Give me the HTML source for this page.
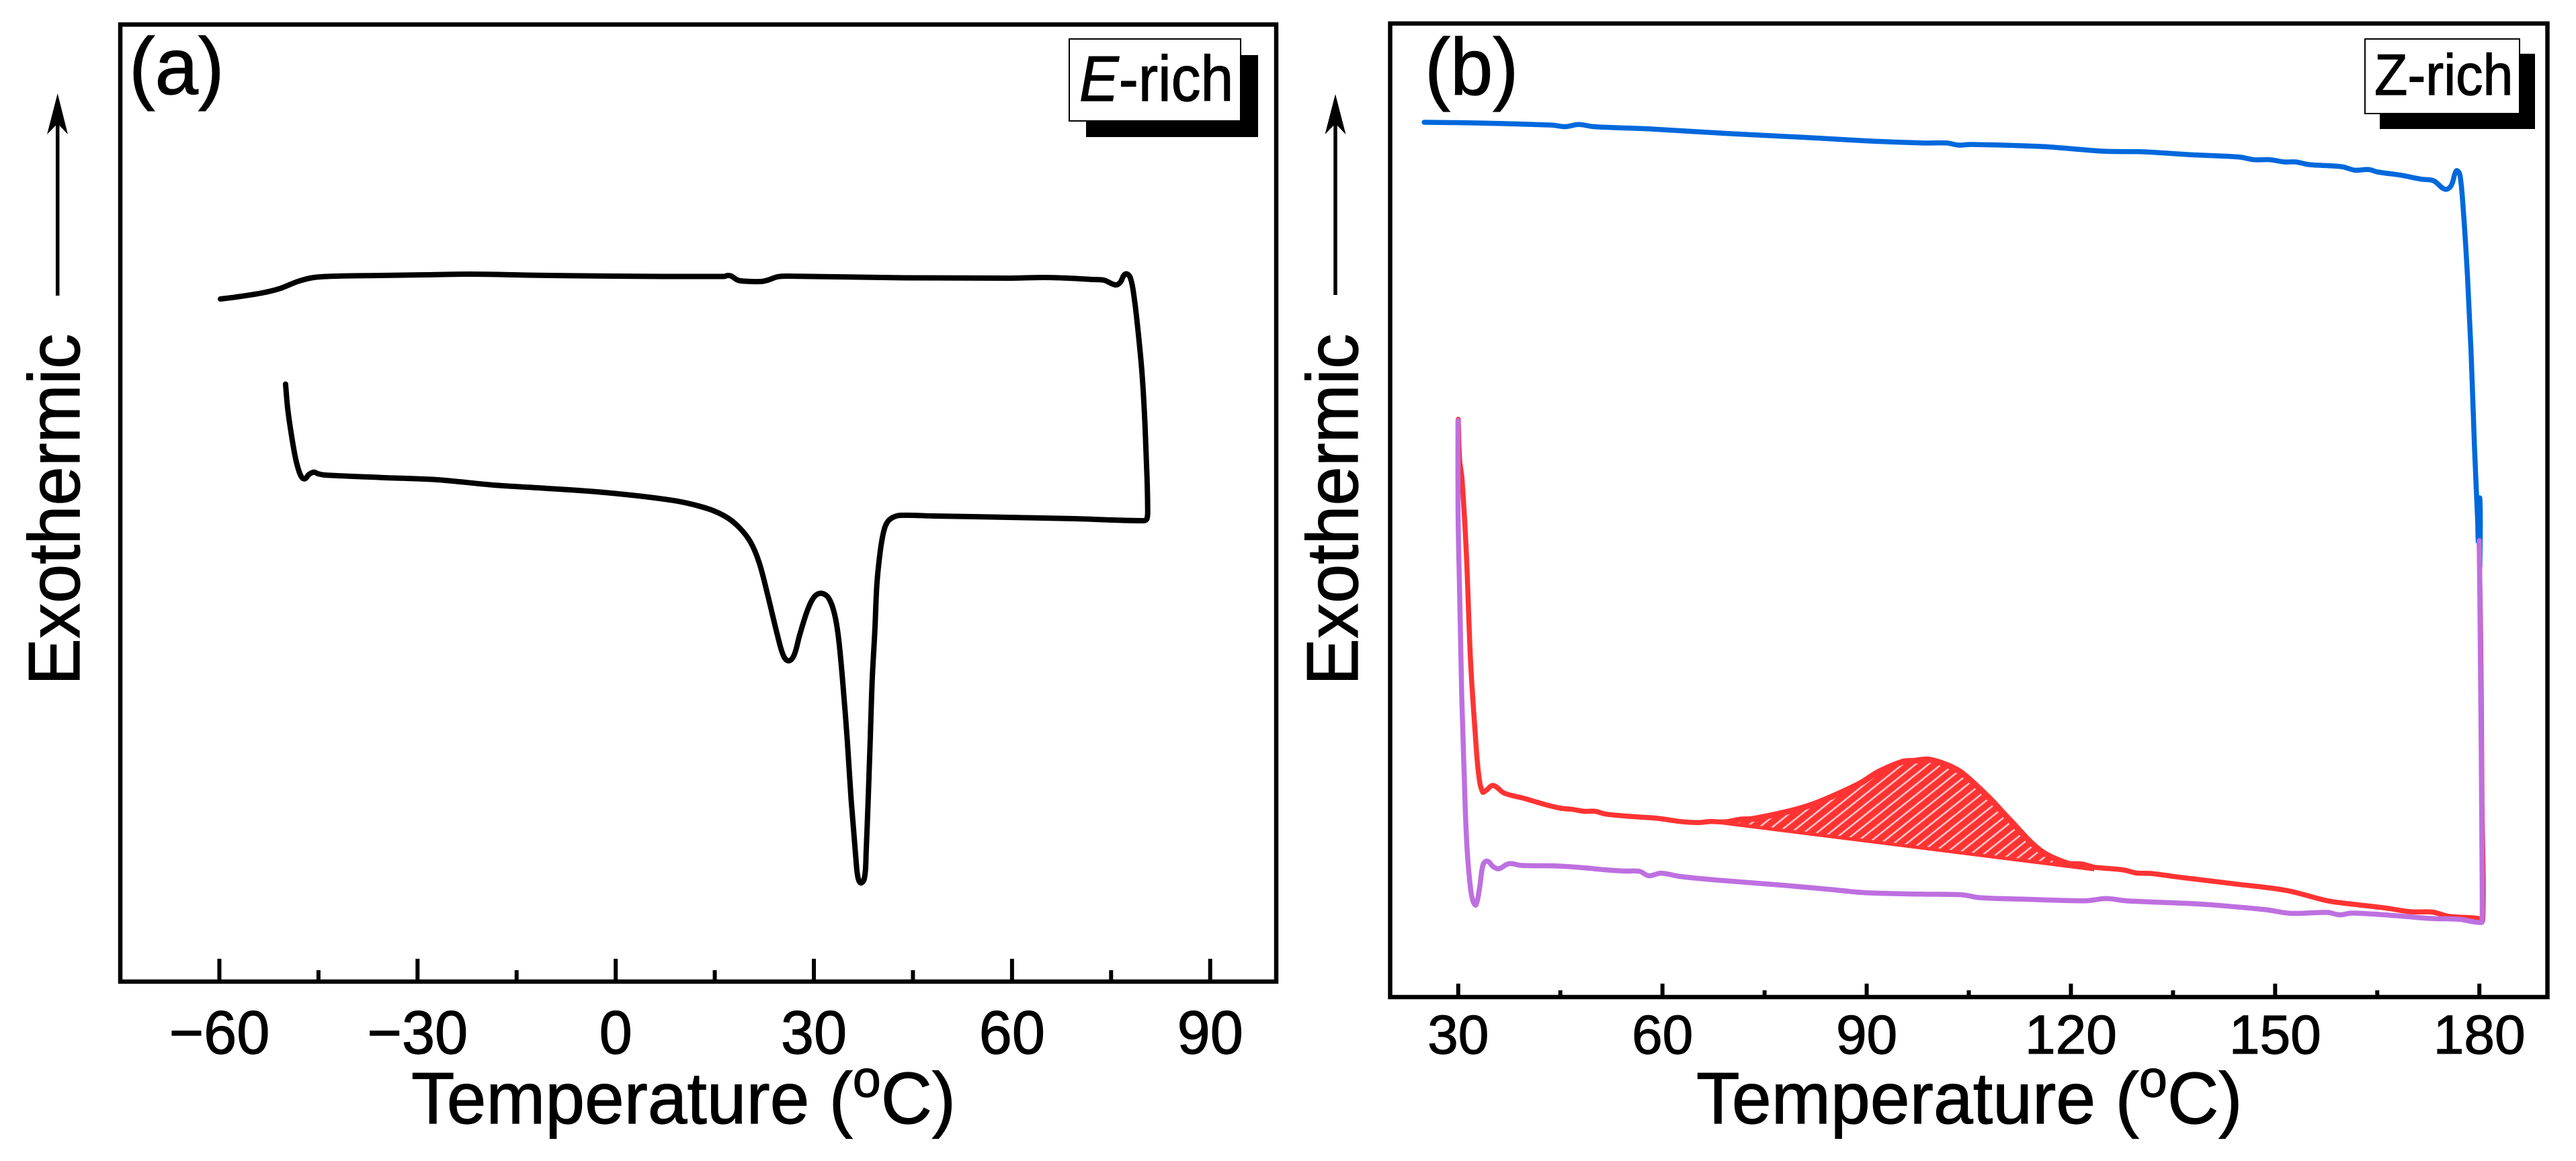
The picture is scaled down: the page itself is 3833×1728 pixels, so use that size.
<!DOCTYPE html>
<html lang="en">
<head>
<meta charset="utf-8">
<title>DSC curves: E-rich and Z-rich</title>
<style>
html,body{margin:0;padding:0;background:#fff;}
svg{display:block;}
text{font-family:"Liberation Sans",sans-serif;fill:#000;stroke:#000;stroke-width:1.2px;}
</style>
</head>
<body>
<svg id="figure" xmlns="http://www.w3.org/2000/svg" width="3833" height="1728" viewBox="0 0 3833 1728">
  <rect x="0" y="0" width="3833" height="1728" fill="#fff"/>

  <g id="panel-a">
    <rect x="179" y="36.5" width="1720" height="1424.5" fill="none" stroke="#000" stroke-width="6.5"/>
    <g id="ticks-a"></g>
    <g id="curves-a"></g>
    <text transform="translate(192,140) scale(0.965,1)" font-size="120">(a)</text>
    <rect x="1616" y="82" width="256" height="122" fill="#000"/>
    <rect x="1591" y="58" width="255" height="122" fill="#fff" stroke="#000" stroke-width="2"/>
    <text transform="translate(1606,150) scale(0.915,1)" font-size="96"><tspan font-style="italic">E</tspan>-rich</text>
    <text transform="translate(612,1672) scale(0.968,1)" font-size="109">Temperature (<tspan dy="-40" font-size="78">o</tspan><tspan dy="40">C)</tspan></text>
    <text transform="translate(118,1020) rotate(-90) scale(0.96,1)" font-size="109">Exothermic</text>
    <g>
      <line x1="85.7" y1="440" x2="85.7" y2="180" stroke="#000" stroke-width="5.5"/>
      <polygon points="85.7,139 101,200 85.7,184 70,200" fill="#000"/>
    </g>
  </g>

  <g id="panel-b">
    <rect x="2068.5" y="35" width="1722" height="1449" fill="none" stroke="#000" stroke-width="6.5"/>
    <g id="ticks-b"></g>
    <g id="curves-b"></g>
    <text transform="translate(2120,141) scale(0.95,1)" font-size="120">(b)</text>
    <rect x="3541" y="80" width="231" height="112" fill="#000"/>
    <rect x="3519" y="58" width="230" height="111" fill="#fff" stroke="#000" stroke-width="2"/>
    <text transform="translate(3533,141) scale(0.94,1)" font-size="86">Z-rich</text>
    <text transform="translate(2524,1672) scale(0.971,1)" font-size="109">Temperature (<tspan dy="-40" font-size="78">o</tspan><tspan dy="40">C)</tspan></text>
    <text transform="translate(2020,1020) rotate(-90) scale(0.96,1)" font-size="109">Exothermic</text>
    <g>
      <line x1="1987" y1="439" x2="1987" y2="180" stroke="#000" stroke-width="5.5"/>
      <polygon points="1987,140 2002.5,200 1987,184 1971.5,200" fill="#000"/>
    </g>
  </g>
</svg>

<script>
// ---- Panel (a) axis data ----
const majorTicksA = [-60, -30, 0, 30, 60, 90];
const minorTicksA = [-45, -15, 15, 45, 75];
const tickLabelsA = ["\u221260", "\u221230", "0", "30", "60", "90"];

// ---- Panel (a) E-rich trace: temperature (deg C) and heat flow (a.u.) ----
const tempERich = [-59.85,-57.61,-53.54,-50.79,-48.15,-45.71,-42.35,-35.53,-28.82,-22.0,-11.83,0.17,16.36,16.96,17.5,18.5,19.5,22,23,24.49,26,43.82,59.38,64.77,68.53,72.29,73.92,75.65,76.36,77.17,77.89,78.5,79.21,79.72,80.13,80.43,80.53,80.43,79.92,69.55,59.38,54.29,48.19,43.1,41.88,41.07,40.56,40.05,39.54,39.24,38.83,38.53,38.22,37.92,37.72,37.21,36.7,36.38,35.65,35.06,34.35,33.74,33.13,32.22,31.1,30.08,29.06,27.84,27.03,26.21,25.4,24.49,23.06,21.74,20.42,18.69,16.65,13.6,8.51,-1.66,-11.83,-18.44,-27.09,-35.53,-44.07,-45.09,-45.71,-46.42,-47.13,-47.74,-48.45,-49.16,-49.67,-49.98];
const flowERich = [1016,1018.7,1025,1031.7,1042,1048,1050,1051,1052,1053,1051.3,1050,1049.5,1051,1050,1044,1042.5,1042,1044,1049,1050,1047.5,1047,1048,1047,1045,1044,1037,1040.5,1053.2,1048.1,1017.5,956,900,829,752,706,689,686,689,691,692,693,694,690.5,683,669.5,640.5,591,524,448.5,359,270,194,158,147,154,181,270,359,448.5,511,547,571,578,573,553.4,515.5,486.5,477.5,485,515.5,573.5,623,654,676,692,705,716.4,728,735,739,747,750.3,754,756,758.3,755,748.3,754.3,778,818,854,889.3];

// ---- Panel (b) axis data ----
const majorTicksB = [30, 60, 90, 120, 150, 180];
const minorTicksB = [45, 75, 105, 135, 165];
const tickLabelsB = ["30", "60", "90", "120", "150", "180"];

// ---- Panel (b) traces: temperature (deg C) and heat flow (a.u.) ----
const tempBlue = [25,32.45,43.85,45.73,47.7,49.87,58.36,69.22,79.98,89.66,98.05,101.7,103.48,105.35,116.11,124.6,130.62,137.83,141.58,144.93,146.91,149.28,151.35,153.03,155,159.74,161.72,163.69,165.07,168.43,171.49,173.27,174.95,175.83,176.43,176.72,177.17,177.67,178.27,178.77,179.26,179.75,179.91,180.08,180.08];
const flowBlue = [1302,1301,1297.7,1295.5,1298.8,1295.5,1292,1285.5,1280,1274.5,1271.2,1271.2,1268,1269,1265.7,1259,1258,1253.6,1252,1250,1246.3,1246.3,1243,1243,1239,1236,1230.7,1231.7,1228,1223.3,1217.3,1215,1202.3,1207.3,1226,1230,1222.3,1167.3,1070,963,825,710,679.5,739,641];

const tempRed = [30,30.2,30.55,31.18,31.81,32.5,32.99,33.58,34.15,35.13,36.74,39.57,42.86,45.13,46.81,48.46,50.07,51.75,55.99,59.32,62.6,65.25,67.01,69.22,71.39,73.17,78.01,81.56,85.08,89.05,91.69,95.22,96.96,99.18,102.27,104.25,107.99,111.07,115.48,119.45,121.63,123.41,125.62,127.82,129.59,131.7,136.64,143.85,151.65,157.67,160.73,166.26,169.91,173.17,175.44,179.78,180.5,180.38,180.28,180.18,179.98];
const flowRed = [860,800,771.4,663,500.4,392,332.4,305.3,308,315,303.6,296,286.3,281,279.3,276.5,276.5,272.2,268.4,266,261.3,259.7,261.3,260.7,264.7,265.7,275.7,285.7,300,319,335.7,350.7,352.3,354,344,332.3,297.3,264,219,199.7,198,193.3,191.3,189,184.7,184,177.5,168.7,158.7,143.3,139,132.5,127,126.4,120.3,117.2,114,289.3,442.4,542,674];

const tempPurple = [29.96,29.98,30.19,30.52,31.02,31.35,31.84,32.2,32.6,33.16,33.65,34.27,35.13,35.95,37.23,37.92,39.21,44.15,47.8,51.75,54.38,56.68,57.97,59.81,62.6,67.94,77.61,84.82,89.66,98.05,104.07,106.54,113.75,122.13,125.19,128.15,137.83,141.44,148.69,152.25,157.67,159.5,161.33,167.94,172.88,177.12,180.3,180.42,180.38,180.28,180.14,180.0];
const flowPurple = [858,717,609,446,284,213,159,142,137.2,164.4,197,202.3,194.2,191,198,198.5,196,195.2,193,189.3,187.6,187,180.6,184.4,179.5,174.2,166.5,160,155.4,153.2,152.1,148,145.5,143.3,146.6,143.3,139,136.7,130,124.6,126,122.4,125,121,117,115.6,111,117,213,366,519,679.5];

// Straight integration baseline under the red crystallisation peak
const hatchBaselineTemp = [67.01, 123.41];
const hatchBaselineFlow = [259, 187.3];

// ---- Axis functions ----
function scale(d0, d1, r0, r1) {
  return function (v) { return r0 + (v - d0) * (r1 - r0) / (d1 - d0); };
}
const xA = scale(-75, 100, 179, 1899);
const yA = scale(0, 1425, 1461, 36);
const xB = scale(20, 190, 2068.5, 3790.5);
const yB = scale(0, 1449, 1484, 35);

const NS = "http://www.w3.org/2000/svg";
function make(tag, attrs, parent) {
  const e = document.createElementNS(NS, tag);
  for (const k in attrs) e.setAttribute(k, attrs[k]);
  parent.appendChild(e);
  return e;
}

// Smooth curve through the sampled points; tangents scaled by segment length so
// unevenly spaced samples do not overshoot.
function smoothPath(px, py) {
  const n = px.length;
  function tangent(i) {
    const a = Math.max(i - 1, 0), b = Math.min(i + 1, n - 1);
    const dx = px[b] - px[a], dy = py[b] - py[a];
    const len = Math.hypot(dx, dy) || 1;
    return [dx / len, dy / len];
  }
  let d = "M" + px[0].toFixed(2) + " " + py[0].toFixed(2);
  for (let i = 0; i < n - 1; i++) {
    const seg = Math.hypot(px[i + 1] - px[i], py[i + 1] - py[i]) / 3;
    const t0 = tangent(i), t1 = tangent(i + 1);
    d += "C" + (px[i] + t0[0] * seg).toFixed(2) + " " + (py[i] + t0[1] * seg).toFixed(2) + " " +
      (px[i + 1] - t1[0] * seg).toFixed(2) + " " + (py[i + 1] - t1[1] * seg).toFixed(2) + " " +
      px[i + 1].toFixed(2) + " " + py[i + 1].toFixed(2);
  }
  return d;
}

function drawCurve(parent, temps, flows, xf, yf, color, width, name) {
  const path = make("path", {
    d: smoothPath(temps.map(xf), flows.map(yf)),
    fill: "none", stroke: color, "stroke-width": width,
    "stroke-linejoin": "round", "stroke-linecap": "round"
  }, parent);
  
  
  return path;
}

function drawTicks(parent, majors, minors, labels, xf, axisY, majorLen, minorLen, fontSize, baseline, sx, suffix) {
  majors.forEach(function (t, i) {
    const tick = make("line", { x1: xf(t), x2: xf(t), y1: axisY, y2: axisY - majorLen, stroke: "#000", "stroke-width": 6 }, parent);
    
    
    const label = make("text", {
      transform: "translate(" + xf(t) + "," + baseline + ") scale(" + sx + ",1)",
      "font-size": fontSize, "text-anchor": "middle"
    }, parent);
    label.textContent = labels[i];
    
    
  });
  minors.forEach(function (t) {
    const tick = make("line", { x1: xf(t), x2: xf(t), y1: axisY, y2: axisY - minorLen, stroke: "#000", "stroke-width": 6 }, parent);
    
    
  });
}

// ---- Panel (a) ----
drawTicks(document.getElementById("ticks-a"), majorTicksA, minorTicksA, tickLabelsA, xA, 1461, 34, 17, 91, 1568, 0.97, "a");
drawCurve(document.getElementById("curves-a"), tempERich, flowERich, xA, yA, "#000", 8, "e-rich-curve");

// ---- Panel (b) ----
drawTicks(document.getElementById("ticks-b"), majorTicksB, minorTicksB, tickLabelsB, xB, 1484, 20, 10, 82, 1568, 1, "b");
const curvesB = document.getElementById("curves-b");

// Hatched peak area built from the red trace and its baseline
const peakTemps = [], peakFlows = [];
tempRed.forEach(function (t, i) {
  if (t >= hatchBaselineTemp[0] && t <= hatchBaselineTemp[1]) {
    peakTemps.push(t);
    peakFlows.push(flowRed[i]);
  }
});
const areaD = smoothPath(peakTemps.map(xB), peakFlows.map(yB)) +
  "L" + xB(hatchBaselineTemp[1]) + " " + yB(hatchBaselineFlow[1]) +
  "L" + xB(hatchBaselineTemp[0]) + " " + yB(hatchBaselineFlow[0]) + "Z";
const defs = make("defs", {}, curvesB);
const clip = make("clipPath", { id: "hatch-clip" }, defs);
make("path", { d: areaD }, clip);
const hatch = make("g", { "clip-path": "url(#hatch-clip)" }, curvesB);


const hatchFill = make("path", { d: areaD, fill: "#ff3333" }, hatch);


for (let x0 = 2410.6; x0 < 3300; x0 += 19.2) {
  const stripe = make("line", { x1: x0, y1: 1320, x2: x0 + 327, y2: 1059, stroke: "#ffc6c6", "stroke-width": 2.6 }, hatch);
  
  
}
const hatchEdge = make("path", { d: areaD, fill: "none", stroke: "#ff3333", "stroke-width": 10 }, hatch);



drawCurve(curvesB, tempRed, flowRed, xB, yB, "#ff3333", 7.5, "red-curve");
drawCurve(curvesB, tempBlue, flowBlue, xB, yB, "#0068dc", 7.5, "blue-curve");
drawCurve(curvesB, tempPurple, flowPurple, xB, yB, "#bd70e0", 7.5, "purple-curve");
</script>
</body>
</html>
